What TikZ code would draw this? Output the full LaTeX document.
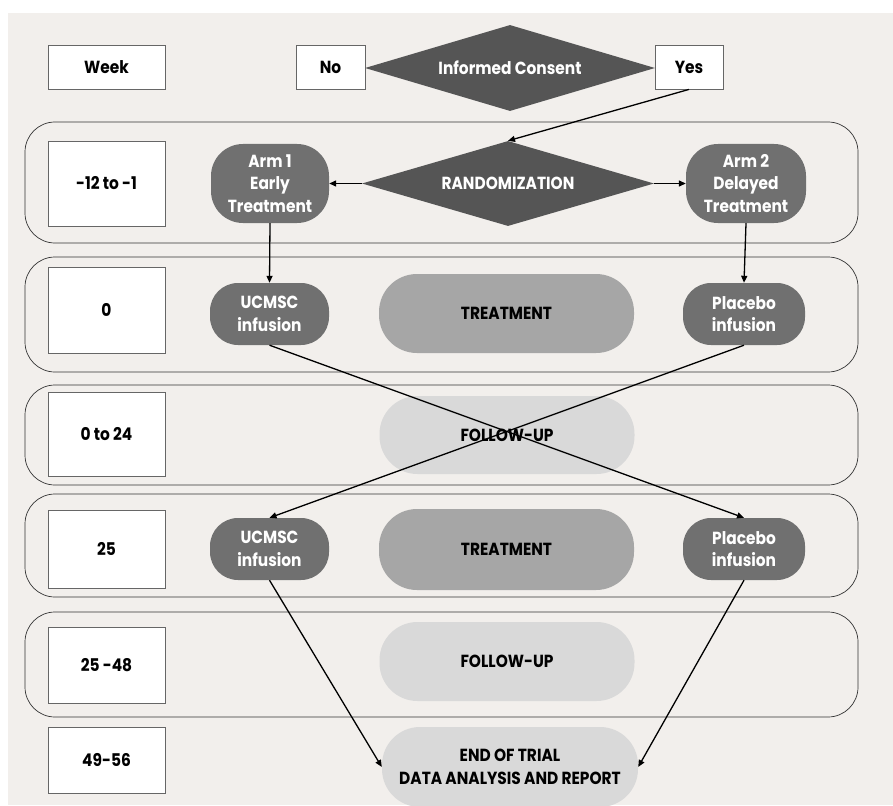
\documentclass[tikz,border=0pt]{standalone}
\usepackage{fontspec}
\setmainfont{Poppins}[FakeStretch=0.88]
\usetikzlibrary{arrows.meta,shapes.geometric}
\definecolor{bg}{HTML}{F2EFEC}
\definecolor{dk}{HTML}{555555}
\definecolor{md}{HTML}{707070}
\definecolor{tr}{HTML}{A6A6A6}
\definecolor{fu}{HTML}{D9D9D9}
\begin{document}
\begin{tikzpicture}[x=1pt,y=-1pt, font=\fontsize{17.5}{22.5}\selectfont\bfseries,
 weekbox/.style={draw=black!60, fill=white, line width=0.8pt, minimum width=117pt, inner sep=0},
 rowframe/.style={draw=black!80, line width=0.7pt, rounded corners=30pt},
 armbox/.style={fill=md, text=white, rounded corners=32pt, align=center, inner sep=0},
 infbox/.style={armbox, rounded corners=28pt, minimum height=62pt},
 pill/.style={rounded corners=38pt, minimum width=255pt, inner sep=0, align=center},
 decision/.style={diamond, fill=dk, inner sep=0},
 conn/.style={line width=1.3pt, -{Triangle[length=7pt,width=6pt]}},
]
\useasboundingbox (0,0) rectangle (893,805);
\fill[white] (0,0) rectangle (893,805);
\fill[bg] (8,13) rectangle (893,805);

% row frames
\draw[rowframe] (25,122) rectangle (858,243);
\draw[rowframe] (25,257) rectangle (858,372);
\draw[rowframe] (25,385) rectangle (858,485);
\draw[rowframe] (25,494) rectangle (858,597);
\draw[rowframe] (25,612) rectangle (858,717);

% consent row
\node[decision, minimum width=290pt, minimum height=86pt,
      label={[text=white]center:Informed Consent}] (ic) at (510,68) {};
\node[weekbox, minimum height=44pt] (wk) at (106.5,67) {Week};
\node[weekbox, minimum width=69pt, minimum height=44pt] (no) at (330.5,67) {No};
\node[weekbox, minimum width=68pt, minimum height=44pt] (yes) at (689,67) {Yes};

% week boxes
\node[weekbox, minimum height=85pt] (w1) at (106.5,183.5) {-12 to -1};
\node[weekbox, minimum height=86pt] (w2) at (106.5,310) {0};
\node[weekbox, minimum height=84pt] (w3) at (106.5,434) {0 to 24};
\node[weekbox, minimum height=78pt] (w4) at (106.5,549) {25};
\node[weekbox, minimum height=76pt] (w5) at (106.5,665) {25 -48};
\node[weekbox, minimum height=66pt] (w6) at (106.5,760) {49-56};

% randomization row
\node[decision, minimum width=292pt, minimum height=85pt,
      label={[text=white]center:RANDOMIZATION}] (rand) at (508,183.5) {};
\node[armbox, minimum width=118pt, minimum height=79pt] (arm1) at (270,183.5) {Arm 1\\Early\\Treatment};
\node[armbox, minimum width=120pt, minimum height=79pt] (arm2) at (746,183.5) {Arm 2\\Delayed\\Treatment};

% week 0
\node[infbox, minimum width=119pt] (uc1) at (269.5,314) {UCMSC\\infusion};
\node[pill, fill=tr, minimum height=79pt] (tr1) at (506.5,313.5) {TREATMENT};
\node[infbox, minimum width=122pt] (pl1) at (744,314) {Placebo\\infusion};

% follow-up 1
\node[pill, fill=fu, minimum height=78pt] (fu1) at (507,435) {FOLLOW-UP};

% week 25
\node[infbox, minimum width=119pt] (uc2) at (269.5,549) {UCMSC\\infusion};
\node[pill, fill=tr, minimum height=81pt] (tr2) at (506.5,549.5) {TREATMENT};
\node[infbox, minimum width=122pt] (pl2) at (744,549) {Placebo\\infusion};

% follow-up 2
\node[pill, fill=fu, minimum height=79pt] (fu2) at (507,661.5) {FOLLOW-UP};

% end of trial
\node[pill, fill=fu, minimum width=256pt, minimum height=80pt] (end) at (510,767) {END OF TRIAL\\DATA ANALYSIS AND REPORT};

% connectors
\draw[conn] (yes.south) -- (rand.north);
\draw[conn] (rand.west) -- (arm1.east);
\draw[conn] (rand.east) -- (arm2.west);
\draw[conn] (arm1.south) -- (uc1.north);
\draw[conn] (arm2.south) -- (pl1.north);
\draw[conn] (uc1.south) -- (pl2.north);
\draw[conn] (pl1.south) -- (uc2.north);
\draw[conn] (uc2.south) -- (end.west);
\draw[conn] (pl2.south) -- (end.east);
\end{tikzpicture}
\end{document}
